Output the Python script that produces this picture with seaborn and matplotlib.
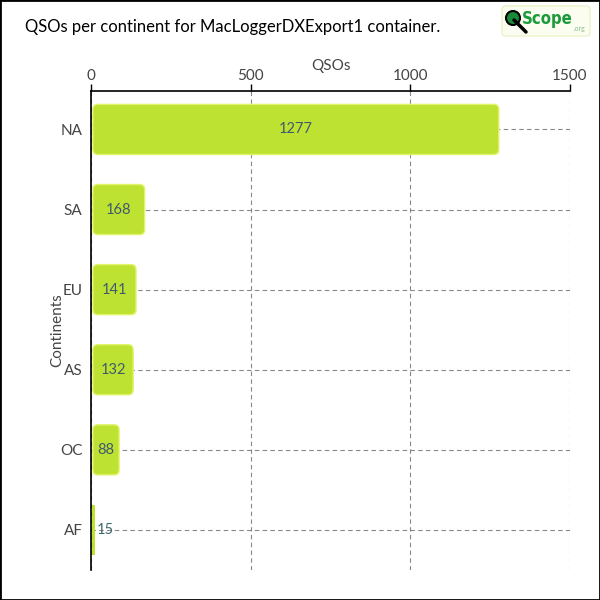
import matplotlib
matplotlib.use("Agg")
import matplotlib.pyplot as plt
import seaborn as sns
import pandas as pd
from matplotlib.patches import FancyBboxPatch, Rectangle, Circle
from matplotlib.lines import Line2D

continents = ["NA", "SA", "EU", "AS", "OC", "AF"]
qsos = [1277, 168, 141, 132, 88, 15]
xticks = [0, 500, 1000, 1500]

df = pd.DataFrame({"Continents": continents, "QSOs": qsos})

sns.set_theme(style="white")
plt.rcParams["font.family"] = ["Lato", "DejaVu Sans"]

fig = plt.figure(figsize=(6, 6), dpi=100)
ax = fig.add_axes([91/600, 30/600, 479/600, 479/600])

bar_color = "#bee232"
edge_color = "#e2f46a"
sns.barplot(data=df, x="QSOs", y="Continents", orient="h", color=bar_color,
            width=0.625, ax=ax, zorder=3, saturation=1)

ax.set_xlim(0, 1500)
ax.set_ylim(5.5, -0.48)

xscale = 479 / 1500.0
yscale = 479 / 5.98
off = 6
for p in list(ax.patches):
    x0, y0, w, h = p.get_x(), p.get_y(), p.get_width(), p.get_height()
    p.remove()
    if w > 40:
        r = 5 / xscale
        bp = FancyBboxPatch((x0 + off, y0), w - off, h,
                            boxstyle=f"round,pad=0,rounding_size={r}",
                            mutation_aspect=xscale / yscale,
                            facecolor=bar_color, edgecolor=edge_color,
                            linewidth=1, zorder=3)
    else:
        bp = Rectangle((x0 + 3, y0), 9, h, facecolor=bar_color,
                       edgecolor="none", zorder=3)
    ax.add_patch(bp)

lab_color = "#444444"
for i, v in enumerate(qsos):
    if v > 40:
        ax.text((v + off) / 2, i, str(v), ha="center", va="center",
                color="#3f5a6e", fontsize=10.5, zorder=5)
    else:
        ax.text(v + 2, i, str(v), ha="left", va="center",
                color="#3f6a6e", fontsize=10.5, zorder=5)

ax.xaxis.tick_top()
ax.xaxis.set_label_position("top")
ax.set_xticks(xticks)
ax.set_xticklabels([str(t) for t in xticks])
ax.tick_params(axis="x", length=5, color="black", labelsize=11, labelcolor=lab_color, pad=1, width=1)
ax.tick_params(axis="y", length=5, color="black", labelsize=11, labelcolor=lab_color, pad=1, width=1)
ax.tick_params(axis="both", which="major", direction="out")
ax.set_xlabel("QSOs", fontsize=11, color=lab_color)
ax.set_ylabel("Continents", fontsize=11, color=lab_color)
ax.xaxis.set_label_coords(0.5, 1 + (91 - 66) / 479)
ax.xaxis.label.set_va("center")
ax.yaxis.set_label_coords(-(91 - 57) / 479, 0.5)
ax.yaxis.label.set_va("center")

ax.grid(True, axis="both", linestyle=(0, (4, 3)), color="#888888", linewidth=0.8, zorder=0)
ax.set_axisbelow(True)

for s in ["bottom", "right"]:
    ax.spines[s].set_visible(False)
for s in ["top", "left"]:
    ax.spines[s].set_color("black")
    ax.spines[s].set_linewidth(1.2)

fig.text(25/600, 1 - 27/600, "QSOs per continent for MacLoggerDXExport1 container.",
         fontsize=12, color="black", ha="left", va="center")

# logo
logo = FancyBboxPatch((502/600, 1 - 36/600), 88/600, 30/600,
                      boxstyle="round,pad=0,rounding_size=0.006",
                      transform=fig.transFigure, facecolor="#fbfdf0",
                      edgecolor="#e6efc0", linewidth=0.8)
fig.patches.append(logo)
fig.lines.append(Line2D([514/600, 526/600], [1 - 20/600, 1 - 32/600], transform=fig.transFigure,
                        color="black", linewidth=2.5))
fig.patches.append(Circle((513/600, 1 - 18/600), 7/600, transform=fig.transFigure,
                          facecolor="#1a8a3a", edgecolor="black", linewidth=1.5))
fig.text(522/600, 1 - 19/600, "Scope", fontsize=12, color="#1a9a3a", ha="left", va="center",
         fontweight="bold", family=["DejaVu Sans"], stretch="condensed")
fig.text(574/600, 1 - 28/600, ".org", fontsize=5, color="#8ac08a", ha="left", va="center")

border = Rectangle((0, 0), 1, 1, transform=fig.transFigure, fill=False,
                   edgecolor="black", linewidth=2)
fig.patches.append(border)

fig.savefig("out.png", dpi=100)
